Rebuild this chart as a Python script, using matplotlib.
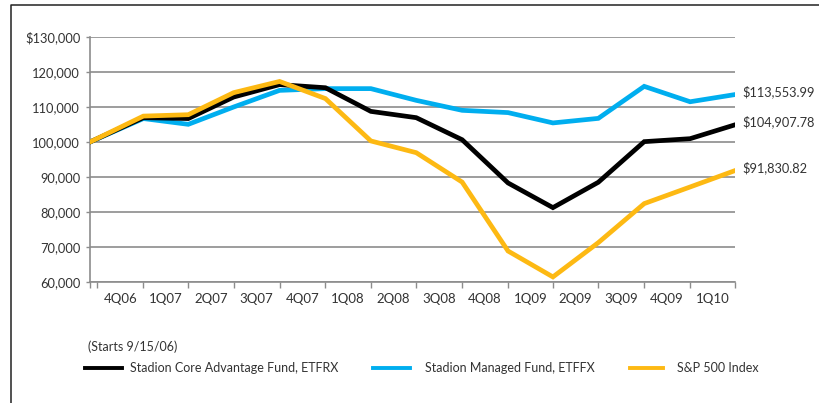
import matplotlib
matplotlib.use("Agg")
import matplotlib.pyplot as plt
from matplotlib.lines import Line2D
import pandas as pd

plt.rcParams['font.family'] = ['Lato', 'DejaVu Sans']

# dados (valor de fim de trimestre)
datas = pd.to_datetime([
    "2006-09-15", "2006-12-31", "2007-03-31", "2007-06-30", "2007-09-30",
    "2007-12-31", "2008-03-31", "2008-06-30", "2008-09-30", "2008-12-31",
    "2009-03-31", "2009-06-30", "2009-09-30", "2009-12-31", "2010-03-31",
])
core_etfrx = [100000, 106950, 106700, 112850, 116400, 115500, 108750, 106950,
              100650, 88300, 81250, 88500, 100100, 100950, 104907.78]
managed_etffx = [100000, 106700, 105050, 110000, 114750, 115250, 115250, 111900,
                 109050, 108400, 105450, 106750, 115900, 111500, 113553.99]
sp500 = [100000, 107400, 107800, 114100, 117300, 112400, 100300, 96950,
         88550, 68850, 61450, 71250, 82400, 87150, 91830.82]

trimestres = ["4Q06", "1Q07", "2Q07", "3Q07", "4Q07", "1Q08", "2Q08", "3Q08",
              "4Q08", "1Q09", "2Q09", "3Q09", "4Q09", "1Q10"]
fim_trimestres = pd.to_datetime([
    "2006-09-30", "2006-12-31", "2007-03-31", "2007-06-30", "2007-09-30",
    "2007-12-31", "2008-03-31", "2008-06-30", "2008-09-30", "2008-12-31",
    "2009-03-31", "2009-06-30", "2009-09-30", "2009-12-31", "2010-03-31",
])

preto = "#000000"
azul = "#00aeef"
laranja = "#fdb913"
texto = "#333333"
cinza = "#8c8c8c"

fig = plt.figure(figsize=(8.19, 4.03), dpi=100)
ax = fig.add_axes([90/819, 1-282/403, (735-90)/819, (282-37)/403])

lw = 3.4
ax.plot(datas, managed_etffx, color=azul, lw=lw, solid_joinstyle='miter', zorder=3)
ax.plot(datas, core_etfrx, color=preto, lw=lw, solid_joinstyle='miter', zorder=4)
ax.plot(datas, sp500, color=laranja, lw=lw, solid_joinstyle='miter', zorder=5)

ax.set_xlim(datas[0], datas[-1])
ax.set_ylim(60000, 130000)

# eixo y
yt = list(range(60000, 130001, 10000))
ax.set_yticks(yt)
ax.set_yticklabels([("$" if v == 130000 else "") + f"{v:,}" for v in yt])
ax.grid(axis='y', color=cinza, lw=1.2)
ax.set_axisbelow(True)

# eixo x: marcas nos fins de trimestre, rotulos no meio
ticks_x = [datas[0]] + list(fim_trimestres)
ax.set_xticks(ticks_x)
ax.set_xticklabels([""] * len(ticks_x))
meios = [fim_trimestres[i] + (fim_trimestres[i+1] - fim_trimestres[i]) / 2
         for i in range(len(trimestres))]
ax.set_xticks(meios, minor=True)
ax.set_xticklabels(trimestres, minor=True)
ax.tick_params(axis='x', which='major', length=4, width=1, color=cinza, direction='out')
ax.tick_params(axis='x', which='minor', length=0, pad=8, labelsize=9.5, labelcolor=texto)
ax.tick_params(axis='y', length=3, width=1, color=cinza, pad=4, labelsize=9.3, labelcolor=texto)

for lado in ['top', 'right']:
    ax.spines[lado].set_visible(False)
for lado in ['left', 'bottom']:
    ax.spines[lado].set_color(cinza)
    ax.spines[lado].set_linewidth(1.2)

# valores finais
for serie in [managed_etffx, core_etfrx, sp500]:
    ax.annotate(f"${serie[-1]:,.2f}", xy=(datas[-1], serie[-1]), xytext=(5, 2),
                textcoords='offset points', va='center', ha='left',
                fontsize=9.2, color=texto, annotation_clip=False)

# legenda
fig.text(88/819, 1-347/403, "(Starts 9/15/06)", fontsize=9, color=texto, va='center')
y_leg = 1 - 368/403
for x0, x1, xt, cor, nome in [(85, 122, 130, preto, "Stadion Core Advantage Fund, ETFRX"),
                              (373, 410, 425, azul, "Stadion Managed Fund, ETFFX"),
                              (630, 663, 677, laranja, "S&P 500 Index")]:
    fig.add_artist(Line2D([x0/819, x1/819], [y_leg, y_leg], color=cor, lw=2.8,
                          transform=fig.transFigure))
    fig.text(xt/819, y_leg, nome, fontsize=9, color=texto, va='center')

# moldura
fig.add_artist(Line2D([11/819, 11/819, 1], [0, 1-5/403, 1-5/403], color="#222222",
                      lw=1.1, transform=fig.transFigure))

fig.savefig("out.png", dpi=100)
